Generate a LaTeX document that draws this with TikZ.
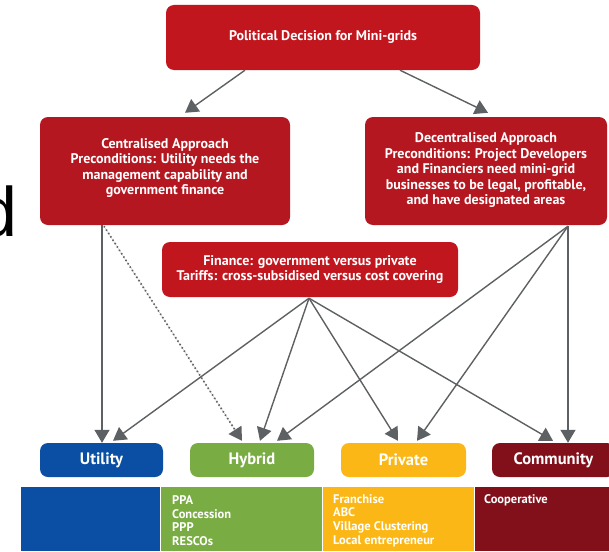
\documentclass[tikz,border=0pt]{standalone}
\usepackage{fontspec}
\setmainfont{PT Sans}
\newfontfamily\bigd{Liberation Sans}
\usetikzlibrary{arrows.meta,calc}
\definecolor{redA}{HTML}{C2161E}
\definecolor{redB}{HTML}{B4171F}
\definecolor{ublue}{HTML}{0A4FA3}
\definecolor{ugreen}{HTML}{79AC43}
\definecolor{uyellow}{HTML}{FBB715}
\definecolor{udark}{HTML}{82101B}
\definecolor{agray}{HTML}{5E6163}
\tikzset{
  rbox/.style={rounded corners=8pt, fill=#1, text=white, align=center, inner sep=0pt,
    font=\fontsize{14}{15.5}\selectfont\bfseries},
  rtext/.style={text=white, align=center, inner sep=0pt,
    font=\fontsize{14}{15.5}\selectfont\bfseries},
  cbox/.style={rounded corners=8pt, fill=#1, text=white, align=center, inner sep=0pt,
    minimum height=34pt, font=\fontsize{16.5}{18}\selectfont\bfseries},
  bartext/.style={anchor=north west, text=white, align=left, inner sep=0pt,
    font=\fontsize{12.5}{13.7}\selectfont\bfseries},
  arr/.style={draw=agray, line width=1.4pt, -{Triangle[width=15pt,length=13pt]}, fill=agray},
  darr/.style={draw=agray, line width=1.7pt, dash pattern=on 1.4pt off 2.6pt, -{Triangle[width=15pt,length=13pt]}, fill=agray},
}
\begin{document}
\begin{tikzpicture}[x=1pt,y=-1pt]
\useasboundingbox (0,0) rectangle (609,551);
% stray letter at left edge
\node[anchor=base west, inner sep=0pt, font=\bigd\fontsize{70}{70}\selectfont] (dd) at (-22,236) {d};
% boxes
\node[rbox=redA, minimum width=314pt, minimum height=65pt] (top) at (323,37.5) {Political Decision for Mini-grids};
\node[rbox=redB, minimum width=250pt, minimum height=108pt] (cen) at (165,171) {};
\node[rtext] (cenT) at (165,168) {Centralised Approach\\Preconditions: Utility needs the\\management capability and\\government finance};
\node[rbox=redB, minimum width=242pt, minimum height=108pt] (dec) at (486,171) {};
\node[rtext] (decT) at (486,170.5) {Decentralised Approach\\Preconditions: Project Developers\\and Financiers need mini-grid\\businesses to be legal, profitable,\\and have designated areas};
\node[rbox=redA, minimum width=296pt, minimum height=55pt] (fin) at (310,269.5) {Finance: government versus private\\Tariffs: cross-subsidised versus cost covering};
% category boxes
\node[cbox=ublue, minimum width=123pt] (uti) at (101.5,460) {Utility};
\node[cbox=ugreen, minimum width=124pt] (hyb) at (252,460) {Hybrid};
\node[cbox=uyellow, minimum width=125pt] (pri) at (403.5,460) {Private};
\node[cbox=udark, minimum width=123pt] (com) at (553.5,460) {Community};
% bars
\fill[ublue] (21,487) rectangle (160,551);
\fill[ugreen] (161,487) rectangle (322,551);
\fill[uyellow] (323,487) rectangle (474,551);
\fill[udark] (475,487) rectangle (609,551);
\node[bartext] (hybt) at (172,495.5) {PPA\\Concession\\PPP\\RESCOs};
\node[bartext] (prit) at (333,494) {Franchise\\ABC\\Village Clustering\\Local entrepreneur};
\node[bartext] (comt) at (484,494) {Cooperative};
% connectors
\draw[arr] ($(top.south)+(-78,0)$) -- ($(cen.north)+(20,-4)$);
\draw[arr] ($(top.south)+(77,0)$) -- ($(dec.north)+(2,-4)$);
\coordinate (cs) at ($(cen.south)+(-63,0)$);
\coordinate (cd) at ($(cen.south)+(-61,1)$);
\draw[arr] (cs) -- (cs |- uti.north);
\draw[darr] (cd) -- ($(hyb.north)+(-10,-2)$);
\coordinate (fo) at ($(fin.south)+(-1,1)$);
\draw[arr] (fo) -- ($(uti.north)+(11.5,-2)$);
\draw[arr] (fo) -- ($(hyb.north)+(8,-2)$);
\draw[arr] (fo) -- ($(pri.north)+(-5.5,-2)$);
\draw[arr] (fo) -- ($(com.north)+(-0.5,-2)$);
\coordinate (do) at ($(dec.south)+(82,1)$);
\draw[arr] (do) -- ($(hyb.north)+(25,-2)$);
\draw[arr] (do) -- ($(pri.north)+(13.5,-2)$);
\draw[arr] (do) -- (do |- com.north);
\end{tikzpicture}
\end{document}
